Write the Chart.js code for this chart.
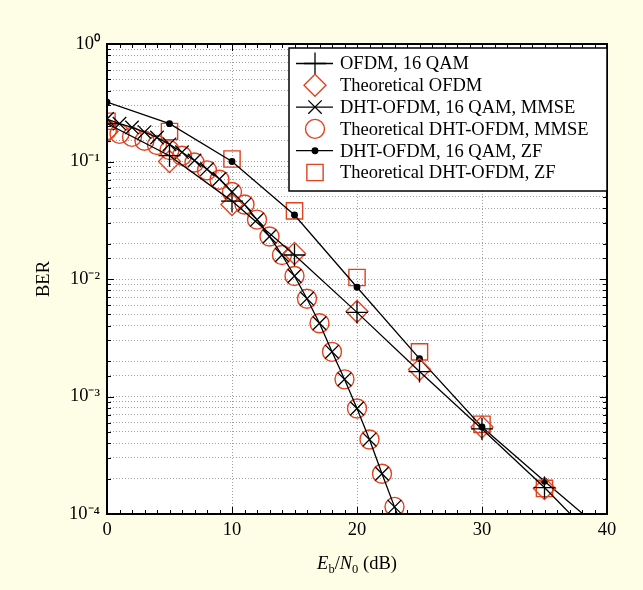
<!DOCTYPE html>
<html lang="en">
<head>
  <meta charset="UTF-8">
  <title>BER vs Eb/N0</title>
  <script src="https://cdn.jsdelivr.net/npm/chart.js"></script>
  <style>
    html, body {
      margin: 0;
      padding: 0;
      background: #fefee6;
    }
    #wrap {
      width: 643px;
      height: 590px;
      position: relative;
    }
  </style>
</head>
<body>
  <div id="wrap"><canvas id="berChart"></canvas></div>
  <script>
    // Eb/N0 points (dB)
    const snrCoarse = [0, 5, 10, 15, 20, 25, 30, 35, 40];
    const snrCoarseTheory = [0, 5, 10, 15, 20, 25, 30, 35];
    const snrFine = [0, 1, 2, 3, 4, 5, 6, 7, 8, 9, 10, 11, 12, 13, 14, 15, 16, 17, 18, 19, 20, 21, 22, 23, 24];
    const snrFineTheory = [0, 1, 2, 3, 4, 5, 6, 7, 8, 9, 10, 11, 12, 13, 14, 15, 16, 17, 18, 19, 20, 21, 22, 23];

    // BER values
    const berOfdmSim = [0.21, 0.112, 0.046, 0.016, 0.0052, 0.00163, 0.00053, 0.000168, 0.000048];
    const berOfdmTheory = [0.18, 0.1, 0.043, 0.0165, 0.0053, 0.0017, 0.00055, 0.000165];
    const berMmseSim = [0.23, 0.21, 0.195, 0.178, 0.16, 0.14, 0.12, 0.102, 0.086, 0.071, 0.055, 0.043, 0.032, 0.023, 0.016, 0.0106, 0.0068, 0.0042, 0.0024, 0.0014, 0.00079, 0.00043, 0.00022, 0.000115, 0.00006];
    const berMmseTheory = [0.185, 0.172, 0.162, 0.15, 0.138, 0.125, 0.112, 0.098, 0.084, 0.07, 0.055, 0.043, 0.032, 0.023, 0.016, 0.0106, 0.0068, 0.0042, 0.0024, 0.0014, 0.00079, 0.00043, 0.00022, 0.000115];
    const berZfSim = [0.32, 0.21, 0.1, 0.035, 0.0085, 0.0021, 0.00055, 0.00019, 0.000067];
    const berZfTheory = [0.22, 0.18, 0.105, 0.038, 0.0103, 0.0024, 0.00058, 0.000165];

    const xTicks = [0, 10, 20, 30, 40];
    const seriesLabels = [
      'OFDM, 16 QAM',
      'Theoretical OFDM',
      'DHT-OFDM, 16 QAM, MMSE',
      'Theoretical DHT-OFDM, MMSE',
      'DHT-OFDM, 16 QAM, ZF',
      'Theoretical DHT-OFDM, ZF'
    ];

    const RED = '#e2421f';
    const SERIF = '"Liberation Serif", "Times New Roman", serif';
    const NONE = 'rgba(0,0,0,0)';

    const pts = (xs, ys) => xs.map((x, i) => ({ x: x, y: ys[i] }));

    const simLine = {
      borderColor: '#000',
      borderWidth: 1.3,
      backgroundColor: '#000',
      pointBorderColor: '#000',
      pointBorderWidth: 1.3,
      tension: 0,
      showLine: true
    };
    const theoryMarks = {
      borderColor: RED,
      backgroundColor: NONE,
      pointBorderColor: RED,
      pointBackgroundColor: NONE,
      pointBorderWidth: 1.4,
      showLine: false
    };

    const datasets = [
      Object.assign({ label: seriesLabels[0], data: pts(snrCoarse, berOfdmSim), pointStyle: 'cross', pointRadius: 11 }, simLine),
      Object.assign({ label: seriesLabels[1], data: pts(snrCoarseTheory, berOfdmTheory), pointStyle: 'rectRot', pointRadius: 11 }, theoryMarks),
      Object.assign({ label: seriesLabels[2], data: pts(snrFine, berMmseSim), pointStyle: 'crossRot', pointRadius: 9.5 }, simLine),
      Object.assign({ label: seriesLabels[3], data: pts(snrFineTheory, berMmseTheory), pointStyle: 'circle', pointRadius: 9.5 }, theoryMarks),
      Object.assign({ label: seriesLabels[4], data: pts(snrCoarse, berZfSim), pointStyle: 'circle', pointRadius: 2.8, pointBackgroundColor: '#000' }, simLine),
      Object.assign({ label: seriesLabels[5], data: pts(snrCoarseTheory, berZfTheory), pointStyle: 'rect', pointRadius: 11.5 }, theoryMarks)
    ];

    const supMap = { '-': '\u207B', '0': '\u2070', '1': '\u00B9', '2': '\u00B2', '3': '\u00B3', '4': '\u2074' };
    function powLabel(v) {
      const lg = Math.log10(v);
      const e = Math.round(lg);
      if (Math.abs(lg - e) > 1e-9) return '';
      return '10' + String(e).split('').map(c => supMap[c]).join('');
    }

    // yellow page, white plot area
    const backdrop = {
      id: 'backdrop',
      beforeDraw(chart) {
        const { ctx, chartArea: a } = chart;
        ctx.save();
        ctx.fillStyle = '#fefee6';
        ctx.fillRect(0, 0, chart.width, chart.height);
        ctx.fillStyle = '#fff';
        ctx.fillRect(a.left, a.top, a.right - a.left, a.bottom - a.top);
        ctx.restore();
      }
    };

    // frame, inward ticks, axis titles and legend box
    const decorations = {
      id: 'decorations',
      afterDraw(chart) {
        const { ctx, chartArea: a } = chart;
        const xs = chart.scales.x, ys = chart.scales.y;
        ctx.save();
        ctx.strokeStyle = '#000';
        ctx.lineWidth = 1;
        ctx.beginPath();
        for (let v = 0; v <= 40; v++) {
          const px = Math.round(xs.getPixelForValue(v)) + 0.5;
          const len = v % 10 === 0 ? 7 : 4;
          ctx.moveTo(px, a.bottom); ctx.lineTo(px, a.bottom - len);
          ctx.moveTo(px, a.top); ctx.lineTo(px, a.top + len);
        }
        ys.ticks.forEach(t => {
          const py = Math.round(ys.getPixelForValue(t.value)) + 0.5;
          const len = powLabel(t.value) ? 7 : 4;
          ctx.moveTo(a.left, py); ctx.lineTo(a.left + len, py);
          ctx.moveTo(a.right, py); ctx.lineTo(a.right - len, py);
        });
        ctx.stroke();

        ctx.lineWidth = 2;
        ctx.strokeRect(a.left, a.top, a.right - a.left, a.bottom - a.top);

        // y title
        ctx.fillStyle = '#000';
        ctx.font = '18.5px ' + SERIF;
        ctx.textAlign = 'center';
        ctx.textBaseline = 'middle';
        ctx.save();
        ctx.translate(44, (a.top + a.bottom) / 2);
        ctx.rotate(-Math.PI / 2);
        ctx.fillText('BER', 0, 0);
        ctx.restore();

        // x title: E_b/N_0 (dB)
        const parts = [
          { t: 'E', f: 'italic 18.5px ' + SERIF, dy: 0 },
          { t: 'b', f: '12.5px ' + SERIF, dy: 4 },
          { t: '/', f: '18.5px ' + SERIF, dy: 0 },
          { t: 'N', f: 'italic 18.5px ' + SERIF, dy: 0 },
          { t: '0', f: '12.5px ' + SERIF, dy: 4 },
          { t: ' (dB)', f: '18.5px ' + SERIF, dy: 0 }
        ];
        ctx.textAlign = 'left';
        ctx.textBaseline = 'alphabetic';
        let total = 0;
        parts.forEach(p => { ctx.font = p.f; p.w = ctx.measureText(p.t).width; total += p.w; });
        let cx = (a.left + a.right) / 2 - total / 2;
        const base = 569;
        parts.forEach(p => { ctx.font = p.f; ctx.fillText(p.t, cx, base + p.dy); cx += p.w; });

        // legend
        const lx = 289, ly = 48, lw = a.right - lx, lh = 143;
        ctx.fillStyle = '#fff';
        ctx.fillRect(lx, ly, lw, lh);
        ctx.lineWidth = 1.5;
        ctx.strokeStyle = '#000';
        ctx.strokeRect(lx, ly, lw, lh);
        ctx.font = '18.5px ' + SERIF;
        ctx.textBaseline = 'middle';
        chart.data.datasets.forEach((ds, i) => {
          const y = ly + 15.5 + i * 21.8;
          if (ds.showLine) {
            ctx.strokeStyle = ds.borderColor;
            ctx.lineWidth = ds.borderWidth;
            ctx.beginPath();
            ctx.moveTo(296, y); ctx.lineTo(333, y);
            ctx.stroke();
          }
          ctx.fillStyle = ds.pointBackgroundColor || NONE;
          ctx.strokeStyle = ds.pointBorderColor;
          ctx.lineWidth = ds.pointBorderWidth;
          Chart.helpers.drawPoint(ctx, {
            pointStyle: ds.pointStyle,
            radius: ds.pointRadius,
            borderWidth: ds.pointBorderWidth,
            rotation: 0
          }, 315, y);
          ctx.fillStyle = '#000';
          ctx.fillText(ds.label, 340, y + 1);
        });
        ctx.restore();
      }
    };

    new Chart(document.getElementById('berChart'), {
      type: 'scatter',
      data: { datasets: datasets },
      options: {
        responsive: true,
        maintainAspectRatio: false,
        animation: false,
        layout: { padding: { top: 44, right: 36, left: 0, bottom: 0 } },
        plugins: {
          legend: { display: false },
          tooltip: { enabled: false }
        },
        scales: {
          x: {
            type: 'linear',
            min: 0,
            max: 40,
            afterFit(scale) { scale.height = 76; },
            afterBuildTicks(scale) { scale.ticks = xTicks.map(v => ({ value: v })); },
            ticks: { color: '#000', padding: 5, font: { family: SERIF, size: 18.5 } },
            grid: { color: '#a0a0a0', lineWidth: 1, drawTicks: false },
            border: { display: false, dash: [1, 2] }
          },
          y: {
            type: 'logarithmic',
            min: 1e-4,
            max: 1,
            afterFit(scale) { scale.width = 107; },
            ticks: {
              color: '#000',
              padding: 7,
              autoSkip: false,
              font: { family: SERIF, size: 18.5 },
              callback: v => powLabel(v)
            },
            grid: { color: '#a0a0a0', lineWidth: 1, drawTicks: false },
            border: { display: false, dash: [1, 2] }
          }
        }
      },
      plugins: [backdrop, decorations]
    });
  </script>
</body>
</html>
